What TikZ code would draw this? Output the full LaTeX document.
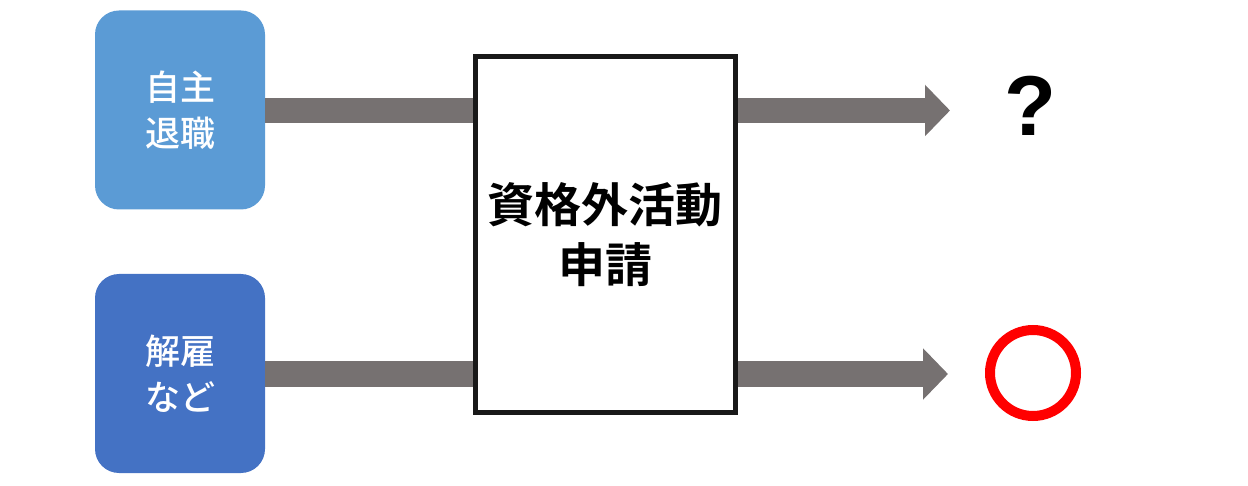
\documentclass[tikz,border=0pt]{standalone}
\usepackage{fontspec}
\newfontfamily\cjk{Noto Sans CJK JP Medium}
\newfontfamily\cjkb{Noto Sans CJK JP Bold}
\newfontfamily\latinb{Liberation Sans Bold}
\usetikzlibrary{arrows.meta}
\definecolor{lightblue}{HTML}{5B9BD5}
\definecolor{darkblue}{HTML}{4472C4}
\definecolor{bargray}{HTML}{767171}
\definecolor{redring}{HTML}{FF0000}
\tikzset{
  srcbox/.style={rounded corners=24pt, minimum width=170pt, minimum height=199pt, inner sep=0pt, text=white, align=center, font=\cjk\fontsize{35}{46}\selectfont},
  bar/.style={draw=bargray, line width=25pt},
  fatarrow/.style={bar, -{Triangle[length=25pt,width=50pt]}},
}
\begin{document}
\begin{tikzpicture}[x=1pt,y=-1pt]
\useasboundingbox (0,0) rectangle (1248,486);
\node[srcbox, fill=lightblue] (jishu) at (180,110) {自主\\退職};
\node[srcbox, fill=darkblue] (kaiko) at (180,373.5) {解雇\\など};
\node[draw=black!90, line width=5pt, minimum width=260pt, minimum height=355pt, inner sep=0pt, align=center, font=\cjkb\fontsize{47}{60}\selectfont] (shinsei) at (605,234.5) {資格外活動\\申請};
\coordinate (q) at (950,110.5);
\coordinate (o) at (948,374);
\node[font=\latinb\fontsize{85}{85}\selectfont, inner sep=0pt] (qm) at (1030,106) {?};
\node[draw=redring, line width=10pt, circle, minimum size=86pt, inner sep=0pt] (ok) at (1033,373) {};
\draw[bar] (jishu.east |- 0,110.5) -- (shinsei.west |- 0,110.5);
\draw[bar] (kaiko.east |- 0,374) -- (shinsei.west |- 0,374);
\draw[fatarrow] (shinsei.east |- q) -- (q);
\draw[fatarrow] (shinsei.east |- o) -- (o);
\end{tikzpicture}
\end{document}
